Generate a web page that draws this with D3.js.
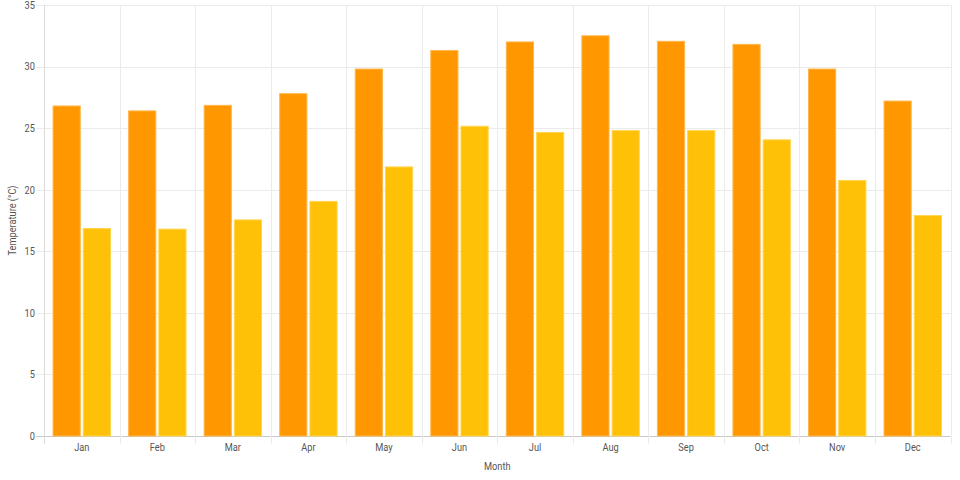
<!DOCTYPE html>
<html><head><meta charset="utf-8">
<script src="https://cdn.jsdelivr.net/npm/d3@7"></script>
<style>body{margin:0;background:#fff;} text{font-family:"Roboto","Liberation Sans",sans-serif;}</style>
</head><body>
<svg id="c" width="960" height="480"></svg>
<script>
const months = ["Jan","Feb","Mar","Apr","May","Jun","Jul","Aug","Sep","Oct","Nov","Dec"];
const seriesA = [26.8,26.4,26.85,27.8,29.8,31.3,32.0,32.5,32.05,31.8,29.8,27.2];
const seriesB = [16.85,16.8,17.55,19.05,21.85,25.15,24.65,24.8,24.8,24.05,20.75,17.9];
const yTicks = [0,5,10,15,20,25,30,35];
const colors = ["#FF9800","#FFC107"];
const borders = ["#FFB74D","#FFD54F"];

const svg = d3.select("#c");
const L = 44, R = 950.5, T = 5, B = 436;
const x = d3.scaleBand().domain(months).range([L, R]);
const y = d3.scaleLinear().domain([0,35]).range([B, T]);
const inner = d3.scaleBand().domain([0,1]).range([0, x.bandwidth()*0.8]);
const SX = 0.84;

// grid
const g = svg.append("g");
g.selectAll("line.h").data(yTicks).join("line")
  .attr("x1", L-8).attr("x2", R).attr("y1", d=>Math.round(y(d))+0.5).attr("y2", d=>Math.round(y(d))+0.5)
  .attr("stroke", d=> d===0 ? "#c8c8c8" : "#ebebeb").attr("stroke-width",1);
const vx = months.map(m=>x(m)).concat([R]);
g.selectAll("line.v").data(vx).join("line")
  .attr("x1", d=>Math.round(d)+0.5).attr("x2", d=>Math.round(d)+0.5).attr("y1", T).attr("y2", B+8)
  .attr("stroke", (d,i)=> i===0 ? "#dcdcdc" : "#ebebeb");

// bars
const series = [seriesA, seriesB];
series.forEach((vals, si) => {
  svg.append("g").selectAll("rect").data(vals).join("rect")
    .attr("x", (d,i)=> x(months[i]) + x.bandwidth()*0.1 + inner(si) + inner.bandwidth()*0.05)
    .attr("width", inner.bandwidth()*0.9)
    .attr("y", d=>y(d)).attr("height", d=>B - y(d))
    .attr("fill", colors[si]).attr("stroke", borders[si]).attr("stroke-width",1);
});

// axis labels
svg.append("g").selectAll("text").data(yTicks).join("text")
  .attr("transform", d=>`translate(${L-9},${y(d)}) scale(${SX},1)`).attr("dy","0.35em").attr("text-anchor","end")
  .attr("font-size",11).attr("fill","#555").text(d=>d);
svg.append("g").selectAll("text").data(months).join("text")
  .attr("transform", d=>`translate(${x(d)+x.bandwidth()/2},${B+15}) scale(${SX},1)`).attr("text-anchor","middle")
  .attr("font-size",11).attr("fill","#555").text(d=>d);
svg.append("text").attr("transform", `translate(${(L+R)/2},470) scale(${SX},1)`).attr("text-anchor","middle")
  .attr("font-size",11).attr("fill","#555").text("Month");
svg.append("text").attr("transform", `translate(16,${(T+B)/2}) rotate(-90) scale(${SX},1)`).attr("text-anchor","middle")
  .attr("font-size",11).attr("fill","#555").text("Temperature (°C)");
</script>
</body></html>
